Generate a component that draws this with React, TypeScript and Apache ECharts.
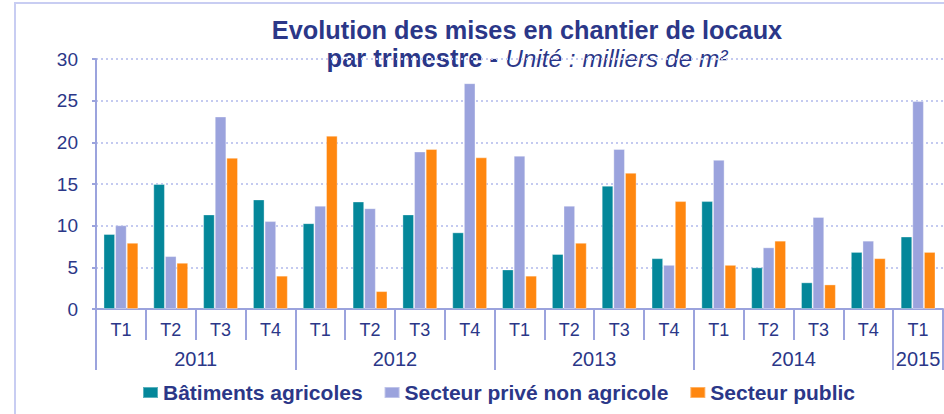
import React, { useEffect, useRef } from "react";
import * as echarts from "echarts";

const quarters = ["T1", "T2", "T3", "T4", "T1", "T2", "T3", "T4", "T1", "T2", "T3", "T4", "T1", "T2", "T3", "T4", "T1"];
const years = ["2011", "2012", "2013", "2014", "2015"];
const yearCenters = [2, 6, 10, 14, 16.5];
const yearBounds = [0, 4, 8, 12, 16, 17];
const seriesNames = ["Bâtiments agricoles", "Secteur privé non agricole", "Secteur public"];
const batimentsAgricoles = [9.0, 15.0, 11.35, 13.15, 10.3, 12.9, 11.35, 9.2, 4.75, 6.6, 14.8, 6.1, 12.95, 5.0, 3.2, 6.85, 8.7];
const secteurPrive = [10.05, 6.35, 23.1, 10.55, 12.4, 12.1, 18.9, 27.1, 18.4, 12.4, 19.2, 5.3, 17.9, 7.4, 11.05, 8.2, 24.95];
const secteurPublic = [7.95, 5.55, 18.15, 4.0, 20.8, 2.15, 19.2, 18.2, 4.0, 7.95, 16.35, 12.95, 5.3, 8.2, 2.95, 6.1, 6.85];
const yTicks = { min: 0, max: 30, interval: 5 };

const NAVY = "#2B3788";
const AXIS = "#9BA3DD";
const COLORS = ["#04879A", "#9BA3DD", "#FF870F"];
const FONT = "'Liberation Sans', Arial, sans-serif";

export default function App() {
  const ref = useRef<HTMLDivElement>(null);
  useEffect(() => {
    document.body.style.margin = "0";
    const chart = echarts.init(ref.current!, null, { renderer: "svg" });
    const dataSets = [batimentsAgricoles, secteurPrive, secteurPublic];
    chart.setOption({
      animation: false,
      textStyle: { fontFamily: FONT },
      grid: { left: 96, right: 1, top: 59, bottom: 105 },
      graphic: [
        {
          type: "rect",
          shape: { x: 15, y: 3, width: 960, height: 440 },
          style: { fill: "none", stroke: "#C8CDF2", lineWidth: 2 },
          silent: true,
          z: -10,
        },
        {
          type: "text",
          x: 527,
          y: 30,
          style: {
            text: "Evolution des mises en chantier de locaux",
            fill: NAVY,
            font: `bold 25.3px ${FONT}`,
            align: "center",
            verticalAlign: "middle",
          },
        },
        {
          type: "text",
          x: 527,
          y: 58,
          style: {
            text: "{b|par trimestre - }{i|Unité : milliers de m²}",
            align: "center",
            verticalAlign: "middle",
            rich: {
              b: { fill: NAVY, fontWeight: "bold", fontSize: 25.5, fontFamily: FONT },
              i: { fill: NAVY, fontStyle: "italic", fontSize: 24.4, fontFamily: FONT },
            },
          },
        },
      ],
      legend: {
        top: 382,
        left: 142,
        padding: 0,
        itemWidth: 15,
        itemHeight: 11,
        itemGap: 21,
        icon: "rect",
        textStyle: { color: NAVY, fontSize: 21, fontWeight: "bold", fontFamily: FONT },
        data: seriesNames,
      },
      xAxis: [
        {
          type: "category",
          data: quarters,
          position: "bottom",
          axisLine: { lineStyle: { color: AXIS, width: 2 } },
          axisTick: { show: true, interval: 0, length: 31, lineStyle: { color: AXIS, width: 2 } },
          axisLabel: { interval: 0, color: NAVY, fontSize: 18, margin: 12 },
          splitLine: { show: false },
        },
        {
          type: "value",
          min: 0,
          max: 17,
          position: "bottom",
          offset: 31,
          axisLine: { show: false },
          axisTick: { show: true, customValues: yearBounds, length: 30, lineStyle: { color: AXIS, width: 2 } },
          axisLabel: {
            customValues: yearCenters,
            color: NAVY,
            fontSize: 20,
            margin: 9,
            formatter: (v: number) => years[yearCenters.indexOf(v)] ?? "",
          },
          splitLine: { show: false },
        },
      ],
      yAxis: {
        type: "value",
        min: yTicks.min,
        max: yTicks.max,
        interval: yTicks.interval,
        axisLine: { show: true, lineStyle: { color: AXIS, width: 2 } },
        axisTick: { show: true, length: 4, lineStyle: { color: AXIS, width: 2 } },
        axisLabel: { color: NAVY, fontSize: 19, margin: 18 },
        splitLine: { show: true, lineStyle: { color: "#C4CAF0", width: 2, type: [2, 3] } },
      },
      series: seriesNames.map((name, i) => ({
        name,
        type: "bar",
        xAxisIndex: 0,
        data: dataSets[i],
        barGap: "0%",
        barCategoryGap: "30%",
        itemStyle: { color: COLORS[i], borderColor: "rgba(255,255,255,0.35)", borderWidth: 1 },
      })),
    });
    return () => chart.dispose();
  }, []);
  return <div ref={ref} style={{ width: 944, height: 414 }} />;
}
